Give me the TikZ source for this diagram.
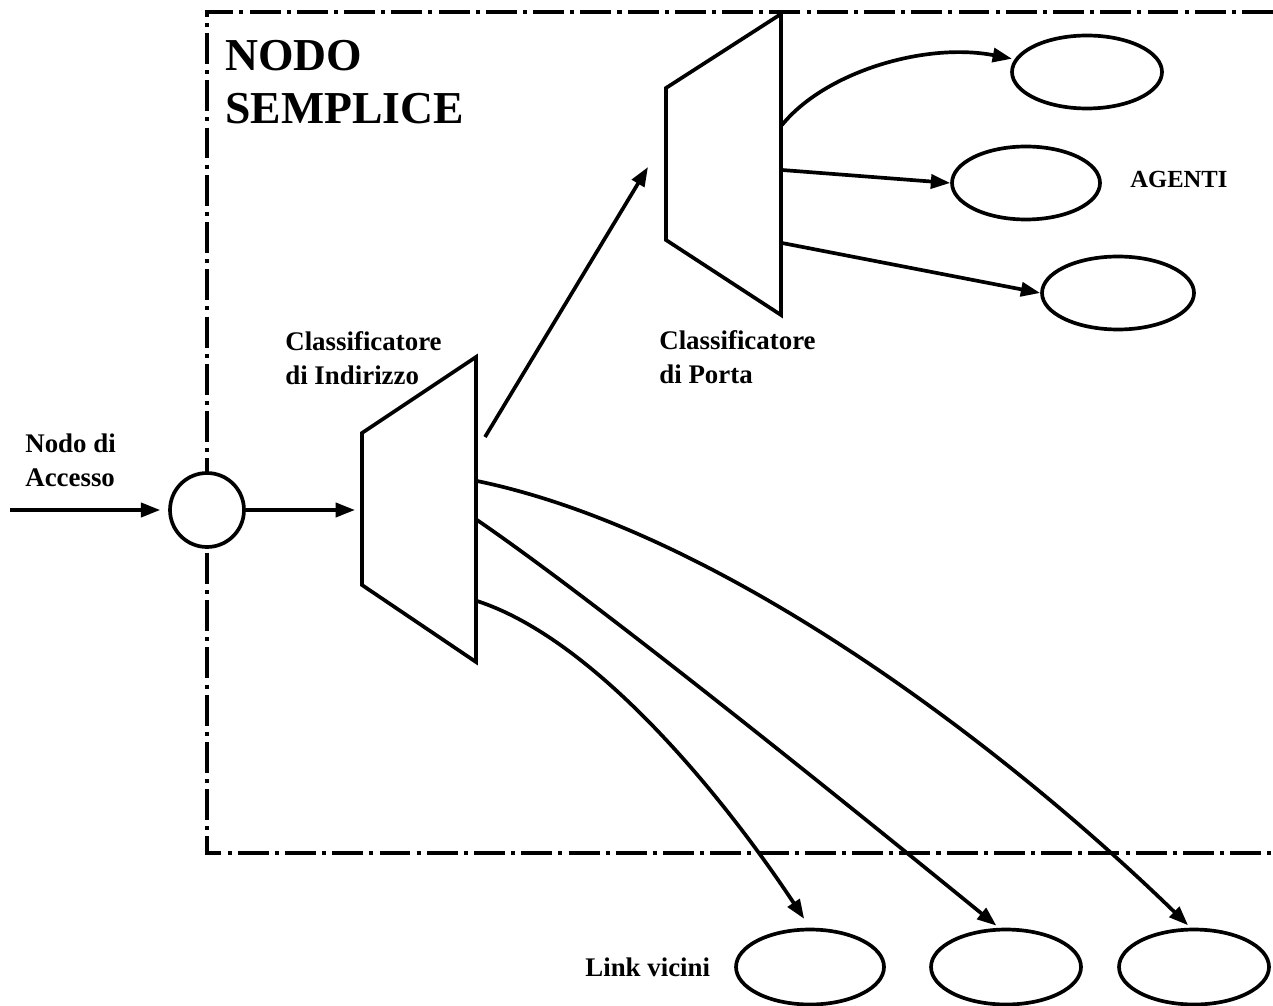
\documentclass[tikz,border=0pt]{standalone}
\usepackage{fontspec}
\setmainfont{Liberation Serif}
\usetikzlibrary{arrows.meta,shapes.geometric}
\begin{document}
\begin{tikzpicture}[x=0.02cm,y=-0.02cm,
  conn/.style={line width=2.1pt,-{Triangle[length=11pt,width=8pt]}},
  shapeline/.style={line width=2.1pt,line join=miter},
  agent/.style={draw,ellipse,line width=2.1pt,minimum width=3cm,minimum height=1.46cm,inner sep=0pt},
  border/.style={line width=2.4pt,dash pattern=on 17.6pt off 3.5pt on 2.3pt off 3.5pt},
  lbl/.style={font=\fontsize{15.3}{19.3}\selectfont\bfseries,align=left,inner sep=0pt,anchor=base west},
]
\useasboundingbox (0,0) rectangle (1273,1006);
% border of the simple node
\draw[border] (1273,12) -- (207,12) -- (207,853) -- (1273,853);

% title
\node[font=\fontsize{26}{30.7}\selectfont\bfseries,align=left,inner sep=0pt,anchor=base west] (title) at (225,124) {NODO\\SEMPLICE};

% access node
\node[draw,circle,fill=white,line width=2.1pt,minimum size=1.48cm,inner sep=0pt] (acc) at (207,510) {};
\coordinate (in) at (10,510);
\node[lbl] (acclbl) at (25,486) {Nodo di\\Accesso};

% address classifier
\coordinate (t1tl) at (362,433);
\coordinate (t1tr) at (476,357);
\coordinate (t1br) at (476,662);
\coordinate (t1bl) at (362,585);
\draw[shapeline] (t1tl) -- (t1tr) -- (t1br) -- (t1bl) -- cycle;
\node[lbl] (t1lbl) at (285,384) {Classificatore\\di Indirizzo};
\coordinate (t1in) at (362,510);
\coordinate (t1up) at (485,437);
\coordinate (t1o1) at (477,481);
\coordinate (t1o2) at (477,520);
\coordinate (t1o3) at (477,601);

% port classifier
\coordinate (t2tl) at (666,88);
\coordinate (t2tr) at (781,14);
\coordinate (t2br) at (781,315);
\coordinate (t2bl) at (666,240);
\draw[shapeline] (t2tl) -- (t2tr) -- (t2br) -- (t2bl) -- cycle;
\node[lbl] (t2lbl) at (659,383) {Classificatore\\di Porta};
\coordinate (t2in) at (648,167);
\coordinate (t2o1) at (782,125);
\coordinate (t2o2) at (782,170);
\coordinate (t2o3) at (782,243);

% agents
\node[agent] (ag1) at (1087,72) {};
\node[agent,minimum width=2.96cm] (ag2) at (1026,183) {};
\node[agent,minimum width=3.04cm] (ag3) at (1118,293) {};
\node[font=\fontsize{14}{17}\selectfont\bfseries,inner sep=0pt,anchor=base west] (aglbl) at (1130,188) {AGENTI};

% neighbour links
\node[agent,minimum width=2.96cm,minimum height=1.5cm] (nb1) at (810,967) {};
\node[agent,minimum height=1.5cm] (nb2) at (1006,967) {};
\node[agent,minimum height=1.5cm] (nb3) at (1194,967) {};
\node[lbl] (nblbl) at (585,976) {Link vicini};

% connectors
\draw[conn,shorten >=4.5pt] (in) -- (acc);
\draw[conn,shorten >=4pt] (acc) -- (t1in);
\draw[conn] (t1up) -- (t2in);
\draw[conn,shorten >=1.5pt] (t2o1) .. controls (825,72) and (925,42) .. (ag1.170);
\draw[conn] (t2o2) -- (ag2.west);
\draw[conn] (t2o3) -- (ag3.west);
\draw[conn,shorten >=6pt] (t1o3) .. controls (594,639) and (721,793) .. (nb1.north);
\draw[conn,shorten >=2pt] (t1o2) .. controls (603,606) and (879,830) .. (nb2.100);
\draw[conn,shorten >=2pt] (t1o1) .. controls (724,532) and (1008,750) .. (nb3.95);
\end{tikzpicture}
\end{document}
